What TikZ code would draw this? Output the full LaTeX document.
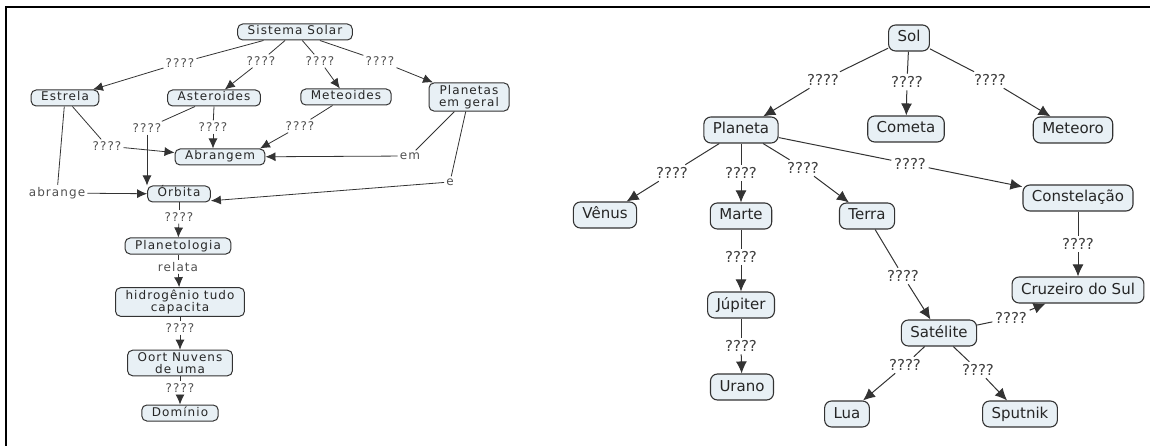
\documentclass[tikz,border=0pt]{standalone}
\usepackage{fontspec}
\setmainfont{DejaVu Sans}
\newfontfamily\mapafonte[LetterSpace=9]{DejaVu Sans}
\usetikzlibrary{arrows.meta, positioning}
\definecolor{PaleSky}{HTML}{E8F0F5}
\definecolor{Slate}{HTML}{333333}
\definecolor{LinkGray}{HTML}{505050}
\newcommand{\fonteA}{\mapafonte\fontsize{12}{12.5}\selectfont}
\newcommand{\fonteB}{\fontsize{15}{17}\selectfont}
\tikzset{
    caixa/.style={rectangle, draw=Slate, fill=PaleSky, text=black!85, align=center},
    conceitoA/.style={caixa, rounded corners=5pt, line width=1pt, font=\fonteA,
                      inner xsep=10pt, inner ysep=2.5pt, text height=8.5pt, text depth=2.5pt},
    duplaA/.style={caixa, rounded corners=5pt, line width=1pt, font=\fonteA,
                   inner xsep=10pt, inner ysep=2pt},
    conceitoB/.style={caixa, rounded corners=7pt, line width=1.1pt, font=\fonteB,
                      inner xsep=9pt, inner ysep=5.5pt, text height=11.5pt, text depth=3.5pt},
    fraseA/.style={inner sep=2pt, text=LinkGray, font=\fonteA},
    fraseB/.style={inner sep=2.5pt, text=black!75, font=\fonteB},
    ligaA/.style={draw=Slate, line width=0.8pt},
    setaA/.style={ligaA, -{Latex[length=10pt,width=9pt]}},
    ligaB/.style={draw=Slate, line width=1pt},
    setaB/.style={ligaB, -{Latex[length=12pt,width=11pt]}}
}

\begin{document}
\begin{tikzpicture}[x=1pt, y=-1pt]
    \useasboundingbox (0,0) rectangle (1150,446);
    \draw[line width=2.5pt] (1150,7) -- (6,7) -- (6,446);

    % mapa da esquerda
    \node[conceitoA] (sistema) at (295,32) {Sistema Solar};
    \node[conceitoA] (estrela) at (65,98) {Estrela};
    \node[conceitoA] (asteroides) at (214,98) {Asteroides};
    \node[conceitoA] (meteoides) at (346,97) {Meteoides};
    \node[duplaA] (planetas) at (469,97) {Planetas\\em geral};
    \node[conceitoA] (abrangem) at (220,157) {Abrangem};
    \node[conceitoA] (orbita) at (179,194) {Órbita};
    \node[conceitoA] (planetologia) at (178,246) {Planetologia};
    \node[duplaA] (hidrogenio) at (180,302) {hidrogênio tudo\\capacita};
    \node[duplaA] (oort) at (180,363) {Oort Nuvens\\de uma};
    \node[conceitoA] (dominio) at (180,413) {Domínio};

    \node[fraseA] (fEstrela) at (180,63) {????};
    \node[fraseA] (fAsteroides) at (261,61) {????};
    \node[fraseA] (fMeteoides) at (320,61) {????};
    \node[fraseA] (fPlanetas) at (380,61) {????};
    \node[fraseA] (fEstAbr) at (107,146) {????};
    \node[fraseA] (fAbrange) at (57,193) {abrange};
    \node[fraseA] (fAstOrb) at (147,128) {????};
    \node[fraseA] (fAstAbr) at (213,127) {????};
    \node[fraseA] (fMetAbr) at (300,126) {????};
    \node[fraseA] (fEm) at (410,156) {em};
    \node[fraseA] (fE) at (450,182) {e};
    \node[fraseA] (fOrbPla) at (179,217) {????};
    \node[fraseA] (fRelata) at (178,267) {relata};
    \node[fraseA] (fHidOort) at (180,328) {????};
    \node[fraseA] (fOortDom) at (180,388) {????};

    \draw[ligaA] (sistema) -- (fEstrela);
    \draw[setaA] (fEstrela) -- (estrela);
    \draw[ligaA] (sistema) -- (fAsteroides);
    \draw[setaA] (fAsteroides) -- (asteroides);
    \draw[ligaA] (sistema) -- (fMeteoides);
    \draw[setaA] (fMeteoides) -- (meteoides);
    \draw[ligaA] (sistema) -- (fPlanetas);
    \draw[setaA] (fPlanetas) -- (planetas);
    \draw[ligaA] (estrela) -- (fEstAbr);
    \draw[setaA] (fEstAbr) -- (abrangem);
    \draw[ligaA] (estrela) -- (fAbrange);
    \draw[setaA] (fAbrange) -- (orbita);
    \draw[ligaA] (asteroides) -- (fAstOrb);
    \draw[setaA] (fAstOrb.south) -- (fAstOrb.south |- orbita.north);
    \draw[ligaA] (asteroides.south) -- (fAstAbr);
    \draw[setaA] (fAstAbr) -- (fAstAbr |- abrangem.north);
    \draw[ligaA] (meteoides) -- (fMetAbr);
    \draw[setaA] (fMetAbr) -- (abrangem.12);
    \draw[ligaA] (planetas) -- (fEm);
    \draw[setaA] (fEm) -- (abrangem);
    \draw[ligaA] (planetas) -- (fE);
    \draw[setaA] (fE) -- (orbita.-12);
    \draw[ligaA] (orbita) -- (fOrbPla);
    \draw[setaA] (fOrbPla) -- (planetologia);
    \draw[ligaA] (planetologia) -- (fRelata);
    \draw[setaA] (fRelata) -- (hidrogenio);
    \draw[ligaA] (hidrogenio) -- (fHidOort);
    \draw[setaA] (fHidOort) -- (oort);
    \draw[ligaA] (oort) -- (fOortDom);
    \draw[setaA] (fOortDom) -- (dominio);

    % mapa da direita
    \node[conceitoB] (sol) at (909,38) {Sol};
    \node[conceitoB] (planeta) at (741,130) {Planeta};
    \node[conceitoB] (cometa) at (906,129) {Cometa};
    \node[conceitoB] (meteoro) at (1073,130) {Meteoro};
    \node[conceitoB] (venus) at (605,215) {Vênus};
    \node[conceitoB] (marte) at (741,216) {Marte};
    \node[conceitoB] (terra) at (867,216) {Terra};
    \node[conceitoB] (constelacao) at (1078,198) {Constelação};
    \node[conceitoB] (jupiter) at (741,305) {Júpiter};
    \node[conceitoB] (urano) at (742,387) {Urano};
    \node[conceitoB] (cruzeiro) at (1078,290) {Cruzeiro do Sul};
    \node[conceitoB] (satelite) at (939,333) {Satélite};
    \node[conceitoB] (lua) at (847,414) {Lua};
    \node[conceitoB] (sputnik) at (1020,414) {Sputnik};

    \node[fraseB] (fPlaneta) at (823,80) {????};
    \node[fraseB] (fCometa) at (907,82) {????};
    \node[fraseB] (fMeteoro) at (990,80) {????};
    \node[fraseB] (fVenus) at (672,173) {????};
    \node[fraseB] (fMarte) at (741,173) {????};
    \node[fraseB] (fTerra) at (803,168) {????};
    \node[fraseB] (fConst) at (910,164) {????};
    \node[fraseB] (fJupiter) at (741,257) {????};
    \node[fraseB] (fUrano) at (741,346) {????};
    \node[fraseB] (fSatelite) at (903,276) {????};
    \node[fraseB] (fCruzeiro) at (1078,244) {????};
    \node[fraseB] (fSatCruz) at (1011,318) {????};
    \node[fraseB] (fLua) at (905,365) {????};
    \node[fraseB] (fSputnik) at (978,370) {????};

    \draw[ligaB] (sol) -- (fPlaneta);
    \draw[setaB] (fPlaneta) -- (planeta);
    \draw[ligaB] (sol) -- (fCometa);
    \draw[setaB] (fCometa) -- (cometa);
    \draw[ligaB] (sol) -- (fMeteoro);
    \draw[setaB] (fMeteoro) -- (meteoro);
    \draw[ligaB] (planeta) -- (fVenus);
    \draw[setaB] (fVenus) -- (venus);
    \draw[ligaB] (planeta) -- (fMarte);
    \draw[setaB] (fMarte) -- (marte);
    \draw[ligaB] (planeta) -- (fTerra);
    \draw[setaB] (fTerra) -- (terra);
    \draw[ligaB] (planeta) -- (fConst);
    \draw[setaB] (fConst) -- (constelacao);
    \draw[ligaB] (marte) -- (fJupiter);
    \draw[setaB] (fJupiter) -- (jupiter);
    \draw[ligaB] (jupiter) -- (fUrano);
    \draw[setaB] (fUrano) -- (urano);
    \draw[ligaB] (terra) -- (fSatelite);
    \draw[setaB] (fSatelite) -- (satelite);
    \draw[ligaB] (constelacao) -- (fCruzeiro);
    \draw[setaB] (fCruzeiro) -- (cruzeiro);
    \draw[ligaB] (satelite) -- (fSatCruz);
    \draw[setaB] (fSatCruz) -- (cruzeiro);
    \draw[ligaB] (satelite) -- (fLua);
    \draw[setaB] (fLua) -- (lua);
    \draw[ligaB] (satelite) -- (fSputnik);
    \draw[setaB] (fSputnik) -- (sputnik);
\end{tikzpicture}
\end{document}
